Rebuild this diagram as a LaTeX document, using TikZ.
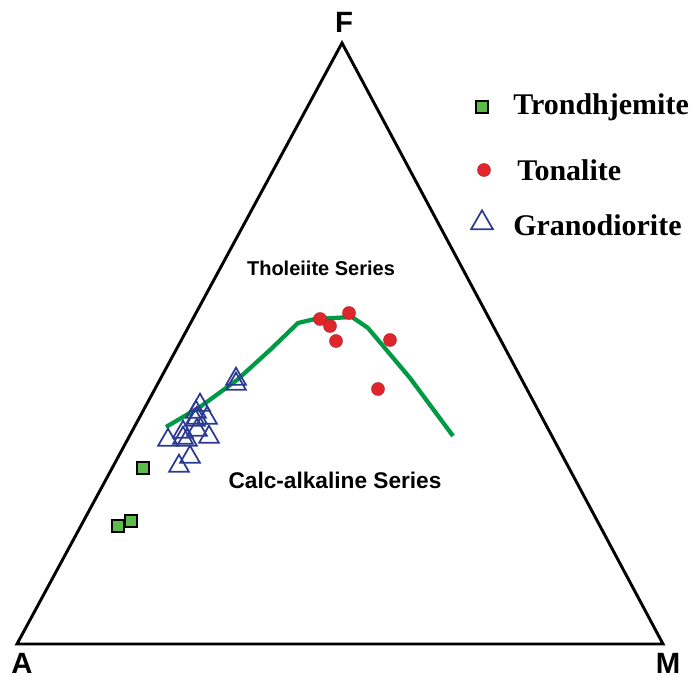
\documentclass[tikz,border=0pt]{standalone}
\usepackage{fontspec}
\setmainfont{Liberation Serif}
\setsansfont{Liberation Sans}
\usepackage{tikz}
\usetikzlibrary{shapes.geometric}
\definecolor{mygreen}{HTML}{009A44}
\definecolor{sqgreen}{HTML}{5CBB4A}
\definecolor{myred}{HTML}{E0262B}
\definecolor{myblue}{HTML}{2B3990}
\tikzset{
  trondh/.style={draw=black, fill=sqgreen, line width=1.4pt, minimum size=9.6pt, inner sep=0pt},
  tonal/.style={circle, draw=myred!75!black, fill=myred, line width=0.3pt, minimum size=9.8pt, inner sep=0pt},
  granod/.style={regular polygon, regular polygon sides=3, draw=myblue, line width=1.3pt, minimum size=17pt, inner sep=0pt},
  vertex/.style={inner sep=0pt, font=\sffamily\bfseries\fontsize{22}{22}\selectfont},
  series/.style={font=\sffamily\bfseries\fontsize{15}{15}\selectfont},
  legend/.style={anchor=west, inner sep=0pt, font=\bfseries\fontsize{22.5}{24}\selectfont}
}

\begin{document}
\begin{tikzpicture}[x=0.75pt, y=0.75pt]
  \useasboundingbox (0,0) rectangle (691,678);
  % AFM triangle
  \coordinate (A) at (17,34);
  \coordinate (M) at (663,34);
  \coordinate (F) at (342,635);
  \draw [line width=2.2pt] (A) -- (M) -- (F) -- cycle;
  \node [vertex] (labelA) at (22,15) {A};
  \node [vertex] (labelM) at (668,15) {M};
  \node [vertex] (labelF) at (344,656) {F};
  % dividing line
  \draw [mygreen, line width=3.2pt, line join=round] (166,251) -- (200,271) -- (237,298) -- (270,328)
        -- (298,355) -- (315,359) -- (352,361) -- (368,350) -- (410,300) -- (453,242);
  \node [series] (thol) at (321,410) {Tholeiite Series};
  \node [series, font=\sffamily\bfseries\fontsize{17}{17}\selectfont] (calc) at (335,198) {Calc-alkaline Series};
  % samples
  \foreach \x/\y in {143/210, 131/157, 118/152}
    \node [trondh] at (\x,\y) {};
  \foreach \x/\y in {236/299, 236/294, 200/273, 197/260, 196/266, 207/260, 195/258, 183/246,
                     197/248, 209/241, 168/238, 183/240, 187/238, 190/221, 179/212}
    \node [granod] at (\x,\y) {};
  \foreach \x/\y in {320/359, 330/352, 349/365, 336/337, 390/338, 378/289}
    \node [tonal] at (\x,\y) {};
  % legend
  \node [trondh] (keyT) at (482,571) {};
  \node [legend] (txtT) at (513,571) {Trondhjemite};
  \node [tonal] (keyTo) at (484,508) {};
  \node [legend] (txtTo) at (517,508) {Tonalite};
  \node [granod, minimum size=19pt] (keyG) at (482,455) {};
  \node [legend] (txtG) at (513,453) {Granodiorite};
\end{tikzpicture}
\end{document}
